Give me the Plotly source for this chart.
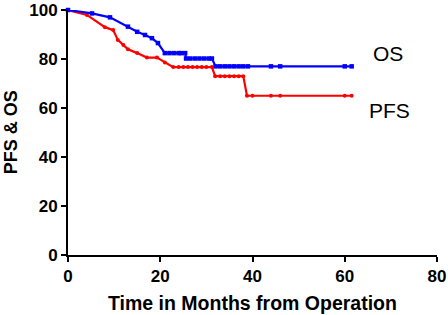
import plotly.graph_objects as go

# OS (overall survival) curve points, incl. censor marks
os_t = [0, 5.2, 9.1, 13, 15, 16.7, 18.2, 19.5, 21, 22, 23, 24, 24.5, 25.4,
        25.6, 26.5, 27.5, 28.5, 29.5, 30.5, 31.2,
        32, 33, 34, 35, 36, 37, 38, 39, 44, 46, 60, 61.5]
os_v = [100, 98.6, 97, 93.2, 91.1, 89.8, 88.5, 86.5, 82.4, 82.4, 82.4, 82.4, 82.4, 82.4,
        80.2, 80.2, 80.2, 80.2, 80.2, 80.2, 80.2,
        77, 77, 77, 77, 77, 77, 77, 77, 77, 77, 77, 77]

# PFS (progression-free survival) curve points, incl. censor marks
pfs_t = [0, 4.1, 8, 9.8, 10.8, 12, 13, 15, 17.1, 19.3, 21, 22.8,
         24, 25, 26, 27, 28, 29, 30, 31.2,
         31.9, 33, 34, 35, 36, 37, 38,
         38.8, 40, 44, 46, 60, 61.5]
pfs_v = [100, 98, 93, 91.8, 87.8, 85.7, 84, 82.4, 80.6, 80.6, 78.6, 76.7,
         76.7, 76.7, 76.7, 76.7, 76.7, 76.7, 76.7, 76.7,
         73, 73, 73, 73, 73, 73, 73,
         65, 65, 65, 65, 65, 65]

x_ticks = [0, 20, 40, 60, 80]
y_ticks = [0, 20, 40, 60, 80, 100]

font_family = "Liberation Sans, Arial, sans-serif"

fig = go.Figure()
fig.add_trace(go.Scatter(x=pfs_t, y=pfs_v, mode="lines+markers", name="PFS",
                         line=dict(color="#FF0000", width=2.2),
                         marker=dict(color="#FF0000", size=4, symbol="circle"),
                         cliponaxis=False))
fig.add_trace(go.Scatter(x=os_t, y=os_v, mode="lines+markers", name="OS",
                         line=dict(color="#0000FF", width=2.2),
                         marker=dict(color="#0000FF", size=4.5, symbol="square"),
                         cliponaxis=False))

axis_common = dict(showgrid=False, zeroline=False, showline=True, linecolor="black",
                   linewidth=2, ticks="outside", ticklen=5, tickwidth=1.5, tickcolor="black",
                   automargin=False,
                   tickfont=dict(family=font_family, size=17, color="black"))

fig.update_xaxes(range=[0, 80], tickvals=x_ticks, ticktext=[f"<b>{v}</b>" for v in x_ticks],
                 **axis_common)
fig.update_yaxes(range=[0, 100], tickvals=y_ticks, ticktext=[f"<b>{v}</b>" for v in y_ticks],
                 **axis_common)

fig.add_annotation(xref="paper", yref="paper", x=0.5, y=-0.195, yanchor="middle",
                   text="<b>Time in Months from Operation</b>", showarrow=False,
                   font=dict(family=font_family, size=19.5, color="black"))
fig.add_annotation(xref="paper", yref="paper", x=-0.155, y=0.5, xanchor="center",
                   text="<b>PFS &amp; OS</b>", showarrow=False, textangle=-90,
                   font=dict(family=font_family, size=18, color="black"))

fig.add_annotation(x=69.3, y=82.4, text="OS", showarrow=False,
                   font=dict(family=font_family, size=21, color="black"))
fig.add_annotation(x=69.8, y=58.8, text="PFS", showarrow=False,
                   font=dict(family=font_family, size=21, color="black"))

fig.update_layout(width=448, height=315, showlegend=False,
                  margin=dict(l=68, r=11, t=10, b=60),
                  plot_bgcolor="white", paper_bgcolor="white")

# remove the browser's default 8px body margin so the figure fills the window
fig.write_html("out.html", config={"displayModeBar": False},
               post_script="document.body.style.margin='0';")
